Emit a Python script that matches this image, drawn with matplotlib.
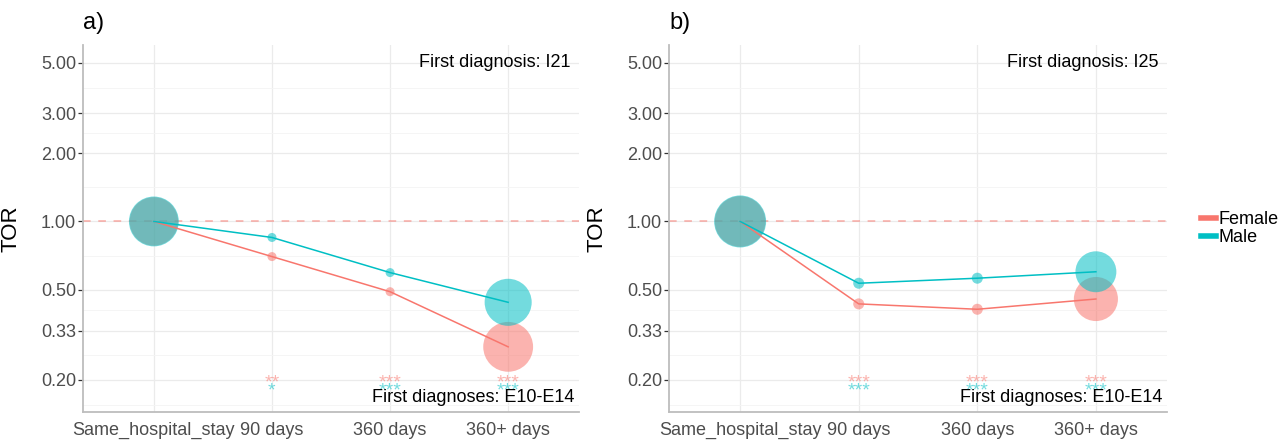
# -*- coding: utf-8 -*-
"""
TOR por periodo de seguimiento, mujeres vs hombres (dos paneles, eje log).
"""
import numpy as np
import matplotlib
matplotlib.use("Agg")
import matplotlib.pyplot as plt
from matplotlib.lines import Line2D
from matplotlib.ticker import FixedLocator, NullFormatter
from matplotlib.transforms import blended_transform_factory

plt.rcParams["font.family"] = ["Liberation Sans", "DejaVu Sans"]

# ----------------------------
# DATOS
# ----------------------------
categorias = ["Same_hospital_stay", "90 days", "360 days", "360+ days"]
y_breaks = [0.20, 0.33, 0.50, 1.00, 2.00, 3.00, 5.00]

tor_female_a = [1.00, 0.70, 0.49, 0.28]
tor_male_a = [1.00, 0.85, 0.595, 0.44]
tor_female_b = [1.00, 0.433, 0.41, 0.455]
tor_male_b = [1.00, 0.534, 0.562, 0.60]

# peso relativo del punto (area)
peso_female_a = [0.87, 0.03, 0.03, 0.92]
peso_male_a = [0.92, 0.03, 0.03, 0.82]
peso_female_b = [0.95, 0.045, 0.045, 0.72]
peso_male_b = [1.00, 0.045, 0.045, 0.62]

estrellas_female_a = ["", "**", "***", "***"]
estrellas_male_a = ["", "*", "***", "***"]
estrellas_female_b = ["", "***", "***", "***"]
estrellas_male_b = ["", "***", "***", "***"]

paneles = ["a)", "b)"]
diag_arriba = ["First diagnosis: I21", "First diagnosis: I25"]
diag_abajo = "First diagnoses: E10-E14"
series = ["Female", "Male"]

# ----------------------------
# ESTILO
# ----------------------------
COL_F = "#F8766D"
COL_M = "#00BFC4"
S_MAX = 1400
GRIS_TXT = "#4D4D4D"


def minor_breaks(breaks):
    lb = np.log(breaks)
    ext = np.concatenate([[lb[0] - (lb[1] - lb[0])], lb, [lb[-1] + (lb[-1] - lb[-2])]])
    return np.exp((ext[:-1] + ext[1:]) / 2)


def dibujar_panel(ax, titulo, tor_f, tor_m, peso_f, peso_m, est_f, est_m, txt_top):
    x = np.arange(len(categorias))

    ax.set_yscale("log")
    ax.set_ylim(0.1445, 6.0)
    ax.set_xlim(-0.6, len(categorias) - 0.4)

    # rejilla
    ax.set_yticks(y_breaks)
    ax.set_yticklabels([f"{v:.2f}" for v in y_breaks])
    ax.yaxis.set_minor_locator(FixedLocator(minor_breaks(y_breaks)))
    ax.yaxis.set_minor_formatter(NullFormatter())
    ax.set_xticks(x)
    ax.set_xticklabels(categorias)
    ax.grid(True, which="major", color="#EBEBEB", lw=0.9, zorder=0)
    ax.grid(True, which="minor", axis="y", color="#F4F4F4", lw=0.6, zorder=0)
    ax.set_axisbelow(True)

    ax.tick_params(axis="y", which="major", length=3.5, width=0.9, color="#333333",
                   labelsize=13, labelcolor=GRIS_TXT, pad=1.5)
    ax.tick_params(axis="y", which="minor", length=0)
    ax.tick_params(axis="x", length=0, labelsize=13, labelcolor=GRIS_TXT, pad=7)

    for s in ["top", "right"]:
        ax.spines[s].set_visible(False)
    for s in ["left", "bottom"]:
        ax.spines[s].set_color("#BDBDBD")
        ax.spines[s].set_linewidth(1.3)

    # referencia en 1
    ax.axhline(1.0, color=COL_F, alpha=0.6, lw=1.1, dashes=(5, 5), zorder=1)

    # puntos y lineas
    ax.scatter(x, tor_f, s=np.array(peso_f) * S_MAX, color=COL_F, alpha=0.55,
               lw=0, zorder=2)
    ax.scatter(x, tor_m, s=np.array(peso_m) * S_MAX, color=COL_M, alpha=0.55,
               lw=0, zorder=2)
    ax.plot(x, tor_f, color=COL_F, lw=1.1, zorder=3)
    ax.plot(x, tor_m, color=COL_M, lw=1.1, zorder=3)

    # significancia
    for xi, ef, em in zip(x, est_f, est_m):
        ax.annotate(ef, (xi, 0.2), xytext=(0, -5.5), textcoords="offset points",
                    ha="center", va="baseline", fontsize=14, color=COL_F, alpha=0.55)
        ax.annotate(em, (xi, 0.2), xytext=(0, -11.5), textcoords="offset points",
                    ha="center", va="baseline", fontsize=14, color=COL_M, alpha=0.55)

    trans = blended_transform_factory(ax.transAxes, ax.transData)
    ax.text(0.983, 5.0, txt_top, transform=trans, ha="right", va="center",
            fontsize=13, color="black")
    ax.text(0.99, 0.167, diag_abajo, transform=trans, ha="right", va="center",
            fontsize=13, color="black")

    ax.set_ylabel("TOR", fontsize=16, color="black")
    ax.yaxis.set_label_coords(-0.124, 0.5)
    ax.text(0.0, 1.06, titulo, transform=ax.transAxes, ha="left", va="center",
            fontsize=17, color="black")


def main():
    fig = plt.figure(figsize=(12.87, 4.41), dpi=100)
    ax_a = fig.add_axes([0.0645, 0.0658, 0.3854, 0.8322])
    ax_b = fig.add_axes([0.5198, 0.0658, 0.3870, 0.8322])

    dibujar_panel(ax_a, paneles[0], tor_female_a, tor_male_a, peso_female_a,
                  peso_male_a, estrellas_female_a, estrellas_male_a, diag_arriba[0])
    dibujar_panel(ax_b, paneles[1], tor_female_b, tor_male_b, peso_female_b,
                  peso_male_b, estrellas_female_b, estrellas_male_b, diag_arriba[1])

    handles = [Line2D([0], [0], color=COL_F, lw=4),
               Line2D([0], [0], color=COL_M, lw=4)]
    fig.legend(handles, series, loc="center left", bbox_to_anchor=(0.933, 0.482),
               frameon=False, fontsize=13, handlelength=0.85, handletextpad=0.15,
               labelspacing=0.05, borderpad=0, borderaxespad=0)

    fig.savefig("out.png", dpi=100)
    plt.close(fig)


if __name__ == "__main__":
    main()
